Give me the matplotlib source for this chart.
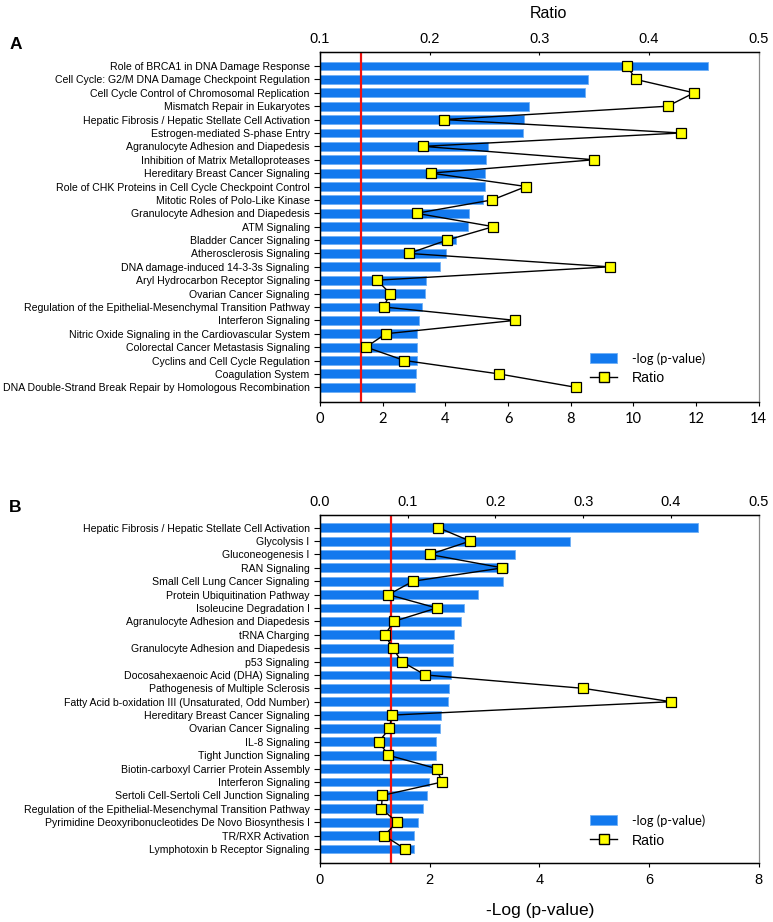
import matplotlib
matplotlib.use("Agg")
import matplotlib.pyplot as plt
from matplotlib.patches import Patch
from matplotlib.lines import Line2D

matplotlib.rcParams['font.family'] = ['Liberation Sans', 'DejaVu Sans']

# ── Panel A data ─────────────────────────────────────────────
paths_a = [
    "Role of BRCA1 in DNA Damage Response",
    "Cell Cycle: G2/M DNA Damage Checkpoint Regulation",
    "Cell Cycle Control of Chromosomal Replication",
    "Mismatch Repair in Eukaryotes",
    "Hepatic Fibrosis / Hepatic Stellate Cell Activation",
    "Estrogen-mediated S-phase Entry",
    "Agranulocyte Adhesion and Diapedesis",
    "Inhibition of Matrix Metalloproteases",
    "Hereditary Breast Cancer Signaling",
    "Role of CHK Proteins in Cell Cycle Checkpoint Control",
    "Mitotic Roles of Polo-Like Kinase",
    "Granulocyte Adhesion and Diapedesis",
    "ATM Signaling",
    "Bladder Cancer Signaling",
    "Atherosclerosis Signaling",
    "DNA damage-induced 14-3-3s Signaling",
    "Aryl Hydrocarbon Receptor Signaling",
    "Ovarian Cancer Signaling",
    "Regulation of the Epithelial-Mesenchymal Transition Pathway",
    "Interferon Signaling",
    "Nitric Oxide Signaling in the Cardiovascular System",
    "Colorectal Cancer Metastasis Signaling",
    "Cyclins and Cell Cycle Regulation",
    "Coagulation System",
    "DNA Double-Strand Break Repair by Homologous Recombination",
]
logp_a = [12.37, 8.54, 8.47, 6.68, 6.51, 6.47, 5.35, 5.29, 5.27, 5.27,
          5.21, 4.75, 4.71, 4.35, 4.02, 3.82, 3.37, 3.35, 3.27, 3.15,
          3.10, 3.10, 3.08, 3.05, 3.03]
ratio_a = [0.380, 0.388, 0.441, 0.417, 0.213, 0.429, 0.194, 0.350, 0.201,
           0.288, 0.257, 0.188, 0.258, 0.216, 0.181, 0.364, 0.152, 0.164,
           0.158, 0.278, 0.160, 0.142, 0.177, 0.263, 0.333]

# ── Panel B data ─────────────────────────────────────────────
paths_b = [
    "Hepatic Fibrosis / Hepatic Stellate Cell Activation",
    "Glycolysis I",
    "Gluconeogenesis I",
    "RAN Signaling",
    "Small Cell Lung Cancer Signaling",
    "Protein Ubiquitination Pathway",
    "Isoleucine Degradation I",
    "Agranulocyte Adhesion and Diapedesis",
    "tRNA Charging",
    "Granulocyte Adhesion and Diapedesis",
    "p53 Signaling",
    "Docosahexaenoic Acid (DHA) Signaling",
    "Pathogenesis of Multiple Sclerosis",
    "Fatty Acid b-oxidation III (Unsaturated, Odd Number)",
    "Hereditary Breast Cancer Signaling",
    "Ovarian Cancer Signaling",
    "IL-8 Signaling",
    "Tight Junction Signaling",
    "Biotin-carboxyl Carrier Protein Assembly",
    "Interferon Signaling",
    "Sertoli Cell-Sertoli Cell Junction Signaling",
    "Regulation of the Epithelial-Mesenchymal Transition Pathway",
    "Pyrimidine Deoxyribonucleotides De Novo Biosynthesis I",
    "TR/RXR Activation",
    "Lymphotoxin b Receptor Signaling",
]
logp_b = [6.89, 4.55, 3.56, 3.42, 3.33, 2.89, 2.63, 2.57, 2.45, 2.43,
          2.43, 2.39, 2.36, 2.34, 2.21, 2.18, 2.12, 2.11, 2.04, 1.99,
          1.96, 1.88, 1.79, 1.71, 1.71]
ratio_b = [0.135, 0.171, 0.125, 0.208, 0.106, 0.078, 0.133, 0.084, 0.074,
           0.083, 0.093, 0.120, 0.300, 0.400, 0.082, 0.079, 0.067, 0.078,
           0.133, 0.139, 0.071, 0.070, 0.088, 0.073, 0.097]

threshold = 1.3  # -log(0.05)

bar_color = "#1279ee"


def draw_panel(fig, rect, names, logp, ratio, xmax, xticks, rlim, rticks,
               rticklabels, ylim, letter, bottom_font, leg_y):
    ax = fig.add_axes(rect)
    y = list(range(len(names)))
    ax.barh(y, logp, height=0.66, color=bar_color, edgecolor="#6fb0f5",
            linewidth=0.6, zorder=2)
    ax.axvline(threshold, color="#ee1111", lw=1.6, zorder=3)
    ax.set_xlim(0, xmax)
    ax.set_ylim(*ylim)
    ax.set_yticks(y)
    ax.set_yticklabels(names, fontsize=7.6)
    ax.set_xticks(xticks)
    ax.set_xticklabels([str(t) for t in xticks], fontsize=10.5,
                       family=bottom_font)
    ax.tick_params(axis="y", length=4, width=0.8, pad=3.5)
    ax.tick_params(axis="x", length=3, width=0.8, pad=4)
    ax.spines["right"].set_color("#888888")
    for s in ("left", "bottom"):
        ax.spines[s].set_linewidth(1.0)

    ax2 = ax.twiny()
    ax2.plot(ratio, y, color="black", lw=1.0, marker="s", markersize=6.5,
             markerfacecolor="#ffff00", markeredgecolor="black",
             markeredgewidth=0.9, zorder=5)
    ax2.set_xlim(*rlim)
    ax2.set_xticks(rticks)
    ax2.set_xticklabels(rticklabels, fontsize=10.5)
    ax2.tick_params(axis="x", length=2, width=0.8, direction="in", pad=4)
    ax2.spines["right"].set_color("#888888")
    ax2.spines["top"].set_linewidth(1.0)

    handles = [Patch(facecolor=bar_color, edgecolor="#6fb0f5", lw=0.6),
               Line2D([0], [0], color="black", lw=1.0, marker="s",
                      markersize=6.5, markerfacecolor="#ffff00",
                      markeredgecolor="black")]
    leg = ax2.legend(handles, ["-log (p-value)", "Ratio"],
                     loc="center left", bbox_to_anchor=(0.585, leg_y),
                     frameon=False, fontsize=10.5, handlelength=1.9,
                     handletextpad=1.0, labelspacing=0.45)
    leg.get_texts()[0].set_family(["Lato", "DejaVu Sans"])
    leg.get_texts()[0].set_fontsize(9.2)
    leg.get_texts()[1].set_fontsize(10.2)

    fig.text(0.012, rect[1] + rect[3] + 0.008, letter, fontsize=12.5,
             fontweight="bold", ha="left", va="center")
    return ax, ax2


fig = plt.figure(figsize=(7.73, 9.22), dpi=100)

W, H = 773.0, 922.0
left = 320 / W
width = (758.7 - 320) / W

rect_a = [left, 1 - 402 / H, width, (402 - 52) / H]
rect_b = [left, 1 - 863 / H, width, (863 - 515) / H]

draw_panel(fig, rect_a, paths_a, logp_a, ratio_a, 14, list(range(0, 15, 2)),
           (0.1, 0.5), [0.1, 0.2, 0.3, 0.4, 0.5],
           ["0.1", "0.2", "0.3", "0.4", "0.5"], (25.1, -1.05), "A",
           ["Lato", "DejaVu Sans"], 0.095)
draw_panel(fig, rect_b, paths_b, logp_b, ratio_b, 8, [0, 2, 4, 6, 8],
           (0.0, 0.5), [0.0, 0.1, 0.2, 0.3, 0.4, 0.5],
           ["0.0", "0.1", "0.2", "0.3", "0.4", "0.5"], (25.05, -0.95), "B",
           ["Liberation Sans", "DejaVu Sans"], 0.092)

fig.text(548 / W, 1 - 13 / H, "Ratio", fontsize=11.5, ha="center",
         va="center")
fig.text(540 / W, 1 - 910 / H, "-Log (p-value)", fontsize=12.5,
         ha="center", va="center")

fig.savefig("out.png", dpi=100)
